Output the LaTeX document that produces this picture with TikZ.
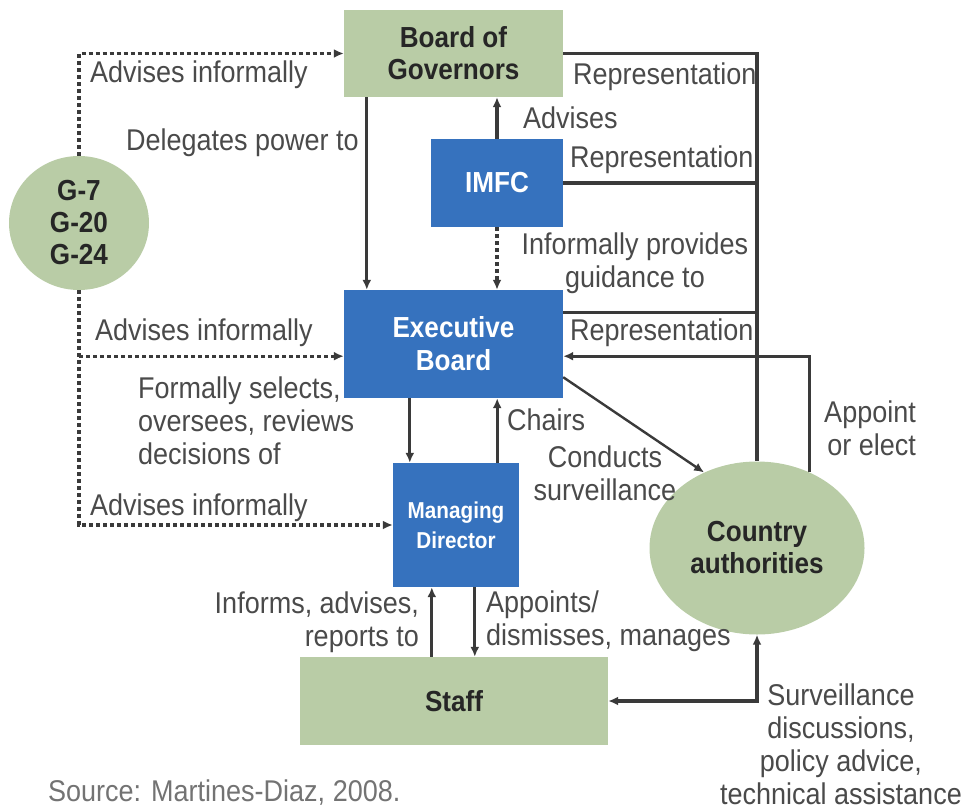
\documentclass[tikz,border=0pt]{standalone}
\usepackage{fontspec}
\setmainfont{Liberation Sans}[FakeStretch=0.9]
\usepackage{tikz}
\usetikzlibrary{shapes,arrows.meta,positioning,calc}
\definecolor{imfgreen}{HTML}{B9CCA6}
\definecolor{imfblue}{HTML}{3672BE}
\definecolor{linegray}{HTML}{3A3A3A}
\definecolor{textgray}{HTML}{4A4A4A}

\begin{document}
\begin{tikzpicture}[x=1pt,y=-1pt,
    greenbox/.style={rectangle,fill=imfgreen,align=center,inner sep=0pt,
        font=\fontsize{29}{32}\selectfont\bfseries,text=black!85},
    bluebox/.style={rectangle,fill=imfblue,align=center,inner sep=0pt,
        font=\fontsize{29}{33}\selectfont\bfseries,text=white},
    lbl/.style={inner sep=0pt,font=\fontsize{30}{33}\selectfont,text=textgray},
    flow/.style={line width=3.2pt,draw=linegray,-{Latex[length=10pt,width=9pt]}},
    dots/.style={flow,dash pattern=on 4pt off 3pt},
    rep/.style={line width=3.2pt,draw=linegray}]
    \useasboundingbox (0,0) rectangle (965,809);

    % Boxes
    \draw (453.5,53.5) node[greenbox,minimum width=219pt,minimum height=87pt](bog){Board of\\Governors};
    \draw (497,183) node[bluebox,minimum width=132pt,minimum height=88pt](imfc){IMFC};
    \draw (453.5,344) node[bluebox,minimum width=219pt,minimum height=108pt](eb){Executive\\Board};
    \draw (456,525) node[bluebox,minimum width=126pt,minimum height=124pt,
        font=\fontsize{23}{30}\selectfont\bfseries](md){Managing\\Director};
    \draw (454,701) node[greenbox,minimum width=308pt,minimum height=88pt](staff){Staff};

    % Ellipses
    \draw (79,223) node[greenbox,ellipse,minimum width=140pt,minimum height=134pt](g){G-7\\G-20\\G-24};
    \draw (757,548) node[greenbox,ellipse,minimum width=215pt,minimum height=173pt](ca){Country\\authorities};

    % Helper points on the box edges
    \coordinate (ebl) at ($(eb.south west)+(0,-42)$);
    \coordinate (ebr) at ($(eb.south east)+(0,-42)$);
    \coordinate (ebrep) at ($(eb.north east)+(0,23)$);
    \coordinate (ebdiag) at ($(eb.south east)+(0,-21)$);
    \coordinate (mdsel) at ($(md.north west)+(17,0)$);
    \coordinate (mdchair) at ($(md.north east)+(-22,0)$);
    \coordinate (mdinf) at ($(md.south west)+(39,0)$);
    \coordinate (mdapp) at ($(md.south west)+(82,0)$);

    % Informal advice from the groups
    \draw[dots] (g.north) |- (bog.west);
    \draw[dots] (g.south) |- (md.west);
    \draw[dots] (g.south |- ebl) -- (ebl);

    % Vertical links
    \draw[flow] ($(bog.south west)+(23,0)$) -- ($(eb.north west)+(23,0)$);
    \draw[flow] (imfc.north) -- (imfc.north |- bog.south);
    \draw[dots] (imfc.south) -- (imfc.south |- eb.north);
    \draw[flow] (mdsel |- eb.south) -- (mdsel);
    \draw[flow] (mdchair) -- (mdchair |- eb.south);
    \draw[flow] (mdinf |- staff.north) -- (mdinf);
    \draw[flow] (mdapp) -- (mdapp |- staff.north);

    % Representation
    \draw[rep] (bog.east) -| (ca.north);
    \draw[rep] (imfc.east) -- (imfc.east -| ca.north);
    \draw[rep] (ebrep) -- (ebrep -| ca.north);

    % Country authorities
    \draw[flow] (ca.55) |- (ebr);
    \draw[flow,line width=2.4pt] (ebdiag) -- (ca.125);
    \draw[flow,{Latex[length=10pt,width=9pt]}-{Latex[length=10pt,width=9pt]}] (ca.south) |- (staff.east);

    % Labels
    \node[lbl,anchor=west] (l1) at (90,75) {Advises informally};
    \node[lbl,anchor=east] (l2) at (359,143) {Delegates power to};
    \node[lbl,anchor=west] (l3) at (523,118) {Advises};
    \node[lbl,anchor=west] (l4) at (573,77) {Representation};
    \node[lbl,anchor=west] (l5) at (570,160) {Representation};
    \node[lbl,align=center] (l6) at (635,263) {Informally provides\\guidance to};
    \node[lbl,anchor=west] (l7) at (95,333) {Advises informally};
    \node[lbl,anchor=west] (l8) at (570,333) {Representation};
    \node[lbl,anchor=west,align=left] (l9) at (138,421) {Formally selects,\\oversees, reviews\\decisions of};
    \node[lbl,anchor=west] (l10) at (507,420) {Chairs};
    \node[lbl,align=center] (l11) at (605,473) {Conducts\\surveillance};
    \node[lbl,align=right,anchor=east] (l12) at (916,428) {Appoint\\or elect};
    \node[lbl,anchor=west] (l13) at (90,508) {Advises informally};
    \node[lbl,align=right,anchor=east] (l14) at (419,622) {Informs, advises,\\reports to};
    \node[lbl,align=left,anchor=west] (l15) at (486,621) {Appoints/\\dismisses, manages};
    \node[lbl,align=center] (l16) at (841,744) {Surveillance\\discussions,\\policy advice,\\technical assistance};
    \node[lbl,anchor=west,text=black!55] (src) at (48,793) {Source: Martines-Diaz, 2008.};
\end{tikzpicture}
\end{document}
